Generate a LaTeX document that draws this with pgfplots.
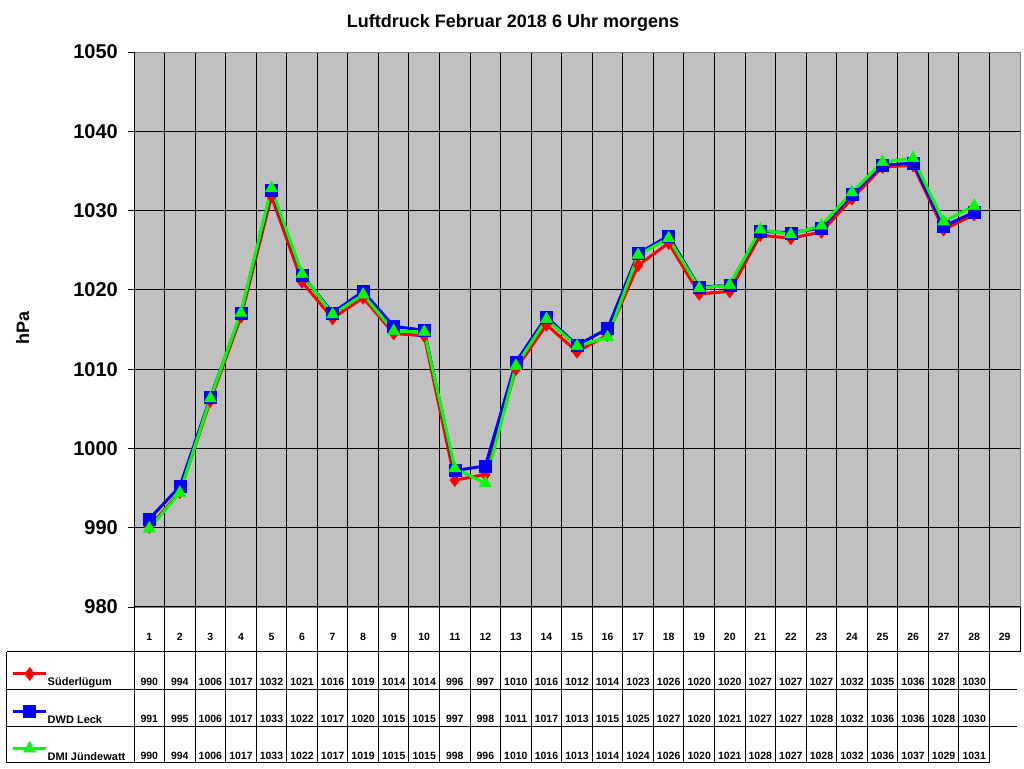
\documentclass[border=0pt]{standalone}
\usepackage{fontspec}
\setmainfont{Liberation Sans}
\usepackage{pgfplots}
\usepackage{pgfplotstable}
\pgfplotsset{compat=1.18}

\definecolor{plotbg}{RGB}{192,192,192}
\definecolor{framegray}{RGB}{128,128,128}
\definecolor{sued}{RGB}{255,0,0}
\definecolor{leck}{RGB}{0,0,255}
\definecolor{juen}{RGB}{0,255,0}

% Luftdruck 6 Uhr, Februar 2018 (hPa)
\pgfplotstableread{
day p
1  990.1
2  994.5
3  1006.0
4  1016.6
5  1031.8
6  1021.0
7  1016.4
8  1019.0
9  1014.5
10 1014.2
11 996.0
12 996.7
13 1010.0
14 1015.6
15 1012.2
16 1014.3
17 1023.1
18 1025.9
19 1019.5
20 1019.8
21 1026.9
22 1026.5
23 1027.3
24 1031.5
25 1035.5
26 1035.7
27 1027.6
28 1029.5
}\suedtab

\pgfplotstableread{
day p
1  991.1
2  995.2
3  1006.4
4  1017.0
5  1032.6
6  1021.9
7  1017.1
8  1019.8
9  1015.4
10 1014.9
11 997.2
12 997.8
13 1010.9
14 1016.6
15 1013.0
16 1015.1
17 1024.6
18 1026.8
19 1020.3
20 1020.6
21 1027.4
22 1027.2
23 1027.8
24 1032.0
25 1035.7
26 1036.0
27 1028.0
28 1029.8
}\lecktab

\pgfplotstableread{
day p
1  989.9
2  994.4
3  1006.3
4  1017.1
5  1032.8
6  1022.0
7  1016.9
8  1019.4
9  1014.8
10 1014.7
11 997.5
12 995.6
13 1010.4
14 1016.3
15 1012.9
16 1014.0
17 1024.4
18 1026.5
19 1020.2
20 1020.6
21 1027.6
22 1027.0
23 1028.1
24 1032.3
25 1036.1
26 1036.6
27 1028.6
28 1030.6
}\juentab

\begin{document}
\begin{tikzpicture}
\path[use as bounding box] (0,0) rectangle (1024pt,768pt);

\begin{axis}[
    at={(134pt,161pt)}, anchor=south west,
    scale only axis,
    width=886pt, height=555pt,
    xmin=0.5, xmax=29.5,
    ymin=980, ymax=1050,
    xtick={0.5,1.5,...,29.5},
    xticklabels={},
    ytick={980,990,...,1050},
    grid=major,
    major grid style={black, line width=1pt},
    tick align=outside,
    tick pos=left,
    major tick length=6pt,
    tick style={black, line width=1pt},
    axis background/.style={fill=plotbg},
    axis line style={framegray, line width=1pt},
    /pgf/number format/assume math mode=true,
    /pgf/number format/1000 sep={},
    yticklabel style={font=\fontsize{20}{24}\selectfont\bfseries, inner xsep=0pt, xshift=-10pt},
    legend style={
        at={(axis description cs:-0.138,-0.1063)}, anchor=north west,
        draw=none, fill=none, inner sep=0pt, outer sep=0pt,
        row sep=12.3pt,
        font=\fontsize{11}{13}\selectfont\bfseries,
        cells={anchor=base west},
        nodes={inner sep=0pt, text height=20pt, text depth=5pt},
        /tikz/every even column/.append style={column sep=5pt},
    },
    legend image code/.code={
        \draw[mark repeat=2, mark phase=2, #1]
            plot coordinates {(0pt,12pt) (16.5pt,12pt) (33pt,12pt)};
    },
]
\addplot[sued, line width=3pt, mark=diamond*, mark size=6.5pt,
    mark options={solid, fill=sued, draw=sued, line width=0.5pt}]
    table[x=day, y=p] {\suedtab};
\addlegendentry{Süderlügum}
\addplot[leck, line width=3pt, mark=square*, mark size=6pt,
    mark options={solid, fill=leck, draw=leck, line width=0.5pt}]
    table[x=day, y=p] {\lecktab};
\addlegendentry{DWD Leck}
\addplot[juen, line width=3pt, mark=triangle*, mark size=7pt,
    mark options={solid, fill=juen, draw=juen, line width=0.5pt}]
    table[x=day, y=p] {\juentab};
\addlegendentry{DMI Jündewatt}
\end{axis}

% black left and bottom axis lines
\draw[black, line width=1pt] (134pt,716pt) -- (134pt,161pt) -- (1020pt,161pt);

% title and y label
\node[anchor=base, font=\fontsize{18}{22}\selectfont\bfseries] at (513pt,740pt)
    {Luftdruck Februar 2018 6 Uhr morgens};
\node[rotate=90, anchor=base, font=\fontsize{18}{22}\selectfont\bfseries] at (29pt,440pt) {hPa};

% data table below the chart
\begin{scope}[black, line width=1pt]
\draw (6.7pt,116.3pt) -- (1019.5pt,116.3pt);
\draw (6.7pt,78.7pt) -- (1017pt,78.7pt);
\draw (6.7pt,41.3pt) -- (1017pt,41.3pt);
\draw (6.7pt,5.5pt) -- (989.4pt,5.5pt);
\draw (6.7pt,116.3pt) -- (6.7pt,5.5pt);
\foreach \k in {0,...,28} {
    \draw ({(134+\k*30.552)*1pt},161pt) -- ({(134+\k*30.552)*1pt},5.5pt);
}
\draw (1020pt,161pt) -- (1020pt,116.3pt);
\end{scope}

\begin{scope}[font=\fontsize{10.5}{12}\selectfont\bfseries]
\foreach \i in {1,...,29} {
    \node[anchor=base, inner sep=0pt] at ({(134+(\i-0.5)*30.552)*1pt},128pt) {\i};
}
\foreach \v [count=\i] in {990,994,1006,1017,1032,1021,1016,1019,1014,1014,996,997,1010,1016,1012,1014,1023,1026,1020,1020,1027,1027,1027,1032,1035,1036,1028,1030} {
    \node[anchor=base, inner sep=0pt] at ({(134+(\i-0.5)*30.552)*1pt},83pt) {\v};
}
\foreach \v [count=\i] in {991,995,1006,1017,1033,1022,1017,1020,1015,1015,997,998,1011,1017,1013,1015,1025,1027,1020,1021,1027,1027,1028,1032,1036,1036,1028,1030} {
    \node[anchor=base, inner sep=0pt] at ({(134+(\i-0.5)*30.552)*1pt},45.3pt) {\v};
}
\foreach \v [count=\i] in {990,994,1006,1017,1033,1022,1017,1019,1015,1015,998,996,1010,1016,1013,1014,1024,1026,1020,1021,1028,1027,1028,1032,1036,1037,1029,1031} {
    \node[anchor=base, inner sep=0pt] at ({(134+(\i-0.5)*30.552)*1pt},8.7pt) {\v};
}
\end{scope}
\end{tikzpicture}
\end{document}
